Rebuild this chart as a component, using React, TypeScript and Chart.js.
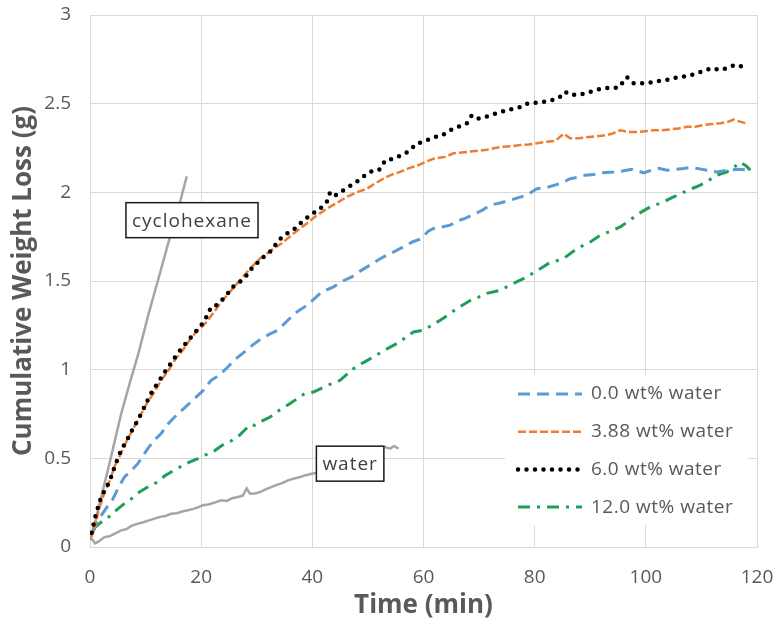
import { useEffect, useRef } from "react";
import { Chart, registerables } from "chart.js";

Chart.register(...registerables);

const FONT = "'Open Sans', 'DejaVu Sans', sans-serif";
const TEXT = "#595959";
const GRID = "#d9d9d9";

// Axis ticks and their labels
const xTickValues = [0, 20, 40, 60, 80, 100, 120];
const xTickLabels = ["0", "20", "40", "60", "80", "100", "120"];
const yTickValues = [0, 0.5, 1, 1.5, 2, 2.5, 3];
const yTickLabels = ["0", "0.5", "1", "1.5", "2", "2.5", "3"];

// Legend labels
const seriesLabels = ["0.0 wt% water", "3.88 wt% water", "6.0 wt% water", "12.0 wt% water"];

// 0.0 wt% water: time (min) and cumulative weight loss (g)
const time0 = [0.5, 1.4, 2.5, 4.1, 5.2, 6.2, 7.4, 8.6, 10.4, 11.5, 12.8, 14.2, 15.8, 17.2, 18.8, 20.3, 21.8, 23.3, 24.8, 26.2, 27.8, 29.3, 30.8, 32.3, 33.8, 35, 36.2, 37.4, 38.6, 40, 41.4, 42.6, 43.8, 45.5, 47.1, 48.8, 50.4, 51.9, 53.4, 55, 56.4, 58, 59.7, 60.8, 61.8, 63.3, 64.8, 66.2, 67.5, 69.3, 70.6, 72, 73.8, 75.6, 77.1, 78.6, 80.4, 82.5, 84.6, 86.4, 87.8, 89.1, 90.6, 92.1, 94.2, 95.8, 97.5, 98.6, 99.6, 101, 102.3, 103.8, 105.3, 106.8, 108, 109.2, 111, 112.8, 114.6, 116.5, 118.8];
const loss0 = [0.08, 0.15, 0.2, 0.27, 0.34, 0.395, 0.43, 0.47, 0.555, 0.6, 0.64, 0.7, 0.752, 0.79, 0.837, 0.88, 0.94, 0.97, 1.015, 1.06, 1.1, 1.14, 1.175, 1.2, 1.222, 1.26, 1.297, 1.33, 1.354, 1.39, 1.43, 1.45, 1.467, 1.5, 1.523, 1.56, 1.59, 1.62, 1.646, 1.67, 1.693, 1.72, 1.74, 1.78, 1.796, 1.805, 1.815, 1.84, 1.853, 1.88, 1.9, 1.928, 1.94, 1.956, 1.97, 1.984, 2.02, 2.03, 2.05, 2.077, 2.085, 2.097, 2.1, 2.11, 2.115, 2.12, 2.13, 2.12, 2.11, 2.125, 2.135, 2.125, 2.13, 2.135, 2.14, 2.135, 2.125, 2.115, 2.125, 2.13, 2.125];

// 3.88 wt% water
const time388 = [0, 0.8, 1.5, 2.5, 3.5, 4.5, 5.6, 6.8, 8, 9.2, 10.4, 11.5, 12.8, 14, 15.4, 16.7, 18, 19.3, 20.4, 21, 22.2, 23.4, 25.2, 27, 28.8, 30.6, 32.7, 34.8, 36.9, 39, 40.8, 42.6, 44.4, 46.2, 48, 49.8, 51.3, 52.8, 54.3, 55.8, 57.3, 58.8, 60.3, 61.8, 63.9, 65.4, 66.9, 68.4, 69.9, 71.4, 72.9, 74.4, 75.9, 77.4, 78.9, 80.4, 82.2, 83.7, 85.2, 86.4, 87.9, 89.4, 90.9, 92.4, 93.9, 95.4, 96.9, 98.4, 99.9, 101.4, 102.9, 104.4, 105.9, 107.4, 108.9, 110.4, 111.9, 113.4, 114.6, 115.8, 116.8, 117.9];
const loss388 = [0.04, 0.1, 0.2, 0.3, 0.37, 0.46, 0.53, 0.61, 0.68, 0.75, 0.82, 0.87, 0.94, 0.99, 1.06, 1.11, 1.17, 1.22, 1.25, 1.27, 1.32, 1.373, 1.44, 1.505, 1.57, 1.627, 1.675, 1.72, 1.775, 1.824, 1.87, 1.908, 1.94, 1.974, 2.0, 2.02, 2.05, 2.078, 2.1, 2.115, 2.135, 2.15, 2.17, 2.19, 2.2, 2.22, 2.225, 2.23, 2.235, 2.24, 2.25, 2.257, 2.26, 2.267, 2.27, 2.277, 2.285, 2.29, 2.33, 2.305, 2.305, 2.31, 2.315, 2.32, 2.33, 2.35, 2.34, 2.34, 2.345, 2.35, 2.35, 2.355, 2.36, 2.37, 2.37, 2.38, 2.385, 2.39, 2.395, 2.41, 2.4, 2.39];

// 6.0 wt% water
const time6 = [0.3, 1.1, 2, 2.8, 3.5, 4.5, 5.6, 6.6, 7.6, 8.6, 9.5, 10.4, 11.3, 12.3, 13.3, 14.3, 15.5, 16.7, 17.8, 18.9, 20, 21, 21.8, 22.6, 24.3, 25.7, 26.8, 27.9, 28.8, 29.7, 30.9, 31.8, 32.7, 33.9, 35.4, 36.9, 38.1, 39.6, 41.4, 42.6, 43.2, 44, 45, 46.5, 48, 49.5, 51, 52.2, 53.1, 54.6, 56.1, 57.3, 58.8, 60, 61.8, 63.3, 64.8, 66.3, 67.8, 68.7, 69.9, 71.1, 72.6, 74.1, 75.9, 77.4, 78.6, 80.1, 81.6, 83.1, 84.3, 85.5, 86.4, 87.9, 89.4, 90.9, 92.7, 93.9, 95.1, 96.6, 97.8, 99.3, 101.1, 102.6, 104.1, 105.9, 107.4, 108.9, 110.4, 111.9, 113.4, 114.6, 116.1, 117.3];
const loss6 = [0.08, 0.19, 0.28, 0.33, 0.367, 0.46, 0.546, 0.6, 0.66, 0.715, 0.77, 0.83, 0.884, 0.93, 0.98, 1.025, 1.08, 1.128, 1.17, 1.21, 1.25, 1.3, 1.354, 1.36, 1.41, 1.467, 1.49, 1.52, 1.56, 1.59, 1.627, 1.65, 1.673, 1.73, 1.767, 1.796, 1.833, 1.871, 1.908, 1.946, 2.0, 1.98, 2.0, 2.03, 2.06, 2.096, 2.125, 2.13, 2.18, 2.19, 2.21, 2.23, 2.275, 2.285, 2.31, 2.32, 2.35, 2.37, 2.39, 2.435, 2.416, 2.425, 2.44, 2.455, 2.47, 2.48, 2.5, 2.505, 2.51, 2.52, 2.53, 2.567, 2.55, 2.55, 2.56, 2.577, 2.587, 2.59, 2.59, 2.65, 2.615, 2.615, 2.62, 2.63, 2.635, 2.65, 2.655, 2.667, 2.685, 2.7, 2.69, 2.7, 2.72, 2.71];

// 12.0 wt% water
const time12 = [0.5, 2, 3.4, 4.7, 6, 7.1, 8.9, 10.5, 12.2, 13.4, 14.6, 16.7, 18, 19.4, 20.8, 22.1, 24.2, 25.5, 26.9, 28.8, 29.6, 30.9, 32.4, 34, 36, 38.6, 40.2, 42.6, 45, 47.4, 49.2, 51, 53, 55.2, 56.7, 58.2, 60, 61.5, 63, 64.5, 66, 68.4, 70, 71.4, 73.8, 76.2, 78.6, 80.5, 82.5, 85.2, 87.6, 90, 91.8, 93.6, 95.4, 97, 98.7, 100.8, 103.2, 104.7, 106.2, 107.4, 109, 110.4, 112.8, 114.6, 115.8, 117, 118, 118.8];
const loss12 = [0.1, 0.14, 0.17, 0.207, 0.24, 0.263, 0.31, 0.34, 0.367, 0.4, 0.423, 0.46, 0.48, 0.499, 0.52, 0.536, 0.583, 0.6, 0.63, 0.69, 0.686, 0.71, 0.733, 0.77, 0.809, 0.865, 0.874, 0.91, 0.94, 1.006, 1.04, 1.072, 1.11, 1.147, 1.18, 1.213, 1.222, 1.25, 1.279, 1.31, 1.345, 1.39, 1.41, 1.43, 1.448, 1.486, 1.523, 1.56, 1.599, 1.627, 1.683, 1.72, 1.758, 1.78, 1.805, 1.84, 1.88, 1.918, 1.946, 1.97, 1.99, 2.01, 2.03, 2.05, 2.097, 2.115, 2.14, 2.17, 2.15, 2.125];

// Pure water
const timeWater = [0, 0.5, 0.9, 1.5, 2.6, 3.5, 4.5, 5.6, 6.5, 7.5, 8.6, 9.6, 10.6, 11.6, 12.6, 13.6, 14.6, 15.6, 16.6, 17.6, 18.6, 19.5, 20.3, 21.3, 22.4, 23.6, 24.6, 25.6, 26.6, 27.5, 28.2, 28.8, 29.6, 30.6, 31.6, 32.6, 33.6, 34.6, 35.6, 36.6, 37.8, 38.8, 40.1, 41, 42, 43, 44, 45, 46, 47, 48, 49, 50, 51, 52, 53.1, 54, 54.7, 55.5];
const lossWater = [0.05, 0.04, 0.02, 0.03, 0.056, 0.06, 0.075, 0.094, 0.1, 0.12, 0.132, 0.14, 0.15, 0.16, 0.17, 0.175, 0.188, 0.19, 0.2, 0.207, 0.215, 0.225, 0.235, 0.24, 0.25, 0.263, 0.26, 0.275, 0.282, 0.29, 0.33, 0.3, 0.301, 0.31, 0.325, 0.338, 0.35, 0.36, 0.376, 0.385, 0.395, 0.405, 0.414, 0.42, 0.43, 0.44, 0.45, 0.46, 0.47, 0.48, 0.49, 0.5, 0.515, 0.53, 0.545, 0.564, 0.555, 0.57, 0.555];

// Pure cyclohexane
const timeCyclo = [0, 0.6, 2, 3.5, 5.6, 7.2, 8.7, 10.5, 12.2, 14.4, 16, 17.4];
const lossCyclo = [0.05, 0.1, 0.28, 0.47, 0.75, 0.93, 1.09, 1.31, 1.5, 1.75, 1.92, 2.09];

// Boxed callouts, anchored at data coordinates (centre of the box)
const callouts = [
  { text: "cyclohexane", x: 18.35, y: 1.843 },
  { text: "water", x: 46.8, y: 0.47 },
];

const pts = (xs: number[], ys: number[]) => xs.map((x, i) => ({ x, y: ys[i] }));

const insetLegend = {
  id: "insetLegend",
  afterDraw(chart: any) {
    const { ctx, chartArea } = chart;
    const w = 243;
    const h = 150;
    const left = chartArea.right - 9 - w;
    const top = chartArea.bottom - 22 - h;
    ctx.save();
    ctx.fillStyle = "#ffffff";
    ctx.fillRect(left, top, w, h);
    const entries = chart.data.datasets.filter((d: any) => seriesLabels.includes(d.label));
    entries.sort((a: any, b: any) => seriesLabels.indexOf(a.label) - seriesLabels.indexOf(b.label));
    entries.forEach((ds: any, i: number) => {
      const y = top + 19 + i * 37.7;
      ctx.strokeStyle = ds.borderColor;
      ctx.lineWidth = ds.borderWidth;
      ctx.lineCap = ds.borderCapStyle || "butt";
      ctx.setLineDash(ds.borderDash || []);
      ctx.beginPath();
      ctx.moveTo(left + 13, y);
      ctx.lineTo(left + 77, y);
      ctx.stroke();
      ctx.setLineDash([]);
      ctx.fillStyle = TEXT;
      ctx.font = `19px ${FONT}`;
      ctx.letterSpacing = "0.5px";
      ctx.textAlign = "left";
      ctx.textBaseline = "middle";
      ctx.fillText(ds.label, left + 86, y);
    });
    ctx.restore();
  },
};

const calloutBoxes = {
  id: "calloutBoxes",
  afterDatasetsDraw(chart: any) {
    const { ctx, scales } = chart;
    ctx.save();
    ctx.font = `19px ${FONT}`;
    ctx.letterSpacing = "1px";
    callouts.forEach((c) => {
      const cx = scales.x.getPixelForValue(c.x);
      const cy = scales.y.getPixelForValue(c.y);
      const tw = ctx.measureText(c.text).width;
      const bw = tw + 12;
      const bh = 35;
      ctx.fillStyle = "#ffffff";
      ctx.fillRect(cx - bw / 2, cy - bh / 2, bw, bh);
      ctx.strokeStyle = "#1a1a1a";
      ctx.lineWidth = 1.5;
      ctx.strokeRect(cx - bw / 2, cy - bh / 2, bw, bh);
      ctx.fillStyle = "#404040";
      ctx.textAlign = "left";
      ctx.textBaseline = "middle";
      ctx.fillText(c.text, cx - tw / 2, cy + 1);
    });
    ctx.restore();
  },
};

export default function App() {
  const canvasRef = useRef<HTMLCanvasElement>(null);

  useEffect(() => {
    if (!canvasRef.current) return;
    const line = { pointRadius: 0, tension: 0, fill: false };
    const chart = new Chart(canvasRef.current, {
      type: "line",
      data: {
        datasets: [
          { ...line, label: seriesLabels[2], data: pts(time6, loss6), borderColor: "#000000", borderWidth: 4.5, borderDash: [0, 8.5], borderCapStyle: "round" },
          { ...line, label: seriesLabels[1], data: pts(time388, loss388), borderColor: "#ed7d31", borderWidth: 2.5, borderDash: [8, 3] },
          { ...line, label: seriesLabels[0], data: pts(time0, loss0), borderColor: "#5b9bd5", borderWidth: 3, borderDash: [12, 7] },
          { ...line, label: seriesLabels[3], data: pts(time12, loss12), borderColor: "#1f9e57", borderWidth: 3, borderDash: [12, 7, 3, 7] },
          { ...line, label: "water", data: pts(timeWater, lossWater), borderColor: "#a5a5a5", borderWidth: 2.5 },
          { ...line, label: "cyclohexane", data: pts(timeCyclo, lossCyclo), borderColor: "#a5a5a5", borderWidth: 2.5 },
        ],
      } as any,
      options: {
        animation: false,
        responsive: false,
        devicePixelRatio: 1,
        layout: { padding: { top: 15, right: 21, left: 0, bottom: 0 } },
        plugins: { legend: { display: false }, tooltip: { enabled: false } },
        scales: {
          x: {
            type: "linear",
            min: 0,
            max: 120,
            afterBuildTicks: (s: any) => { s.ticks = xTickValues.map((v) => ({ value: v })); },
            afterFit: (s: any) => {
              s.height = 77;
              s.paddingLeft = 0;
              s.paddingRight = 0;
            },
            grid: { color: GRID, lineWidth: 1, drawTicks: false },
            border: { color: GRID, width: 1 },
            ticks: {
              color: TEXT,
              font: { family: FONT, size: 19 },
              padding: 19,
              maxRotation: 0,
              callback: (v: any) => xTickLabels[xTickValues.indexOf(Number(v))],
            },
            title: { display: true, text: "Time (min)", color: TEXT, font: { family: FONT, size: 26, weight: "bold" }, padding: { top: 0, bottom: 3 } },
          },
          y: {
            type: "linear",
            min: 0,
            max: 3,
            afterBuildTicks: (s: any) => { s.ticks = yTickValues.map((v) => ({ value: v })); },
            afterFit: (s: any) => {
              s.width = 90;
              s.paddingTop = 0;
              s.paddingBottom = 0;
            },
            grid: { color: GRID, lineWidth: 1, drawTicks: false },
            border: { color: GRID, width: 1 },
            ticks: {
              color: TEXT,
              font: { family: FONT, size: 19 },
              padding: 19,
              callback: (v: any) => yTickLabels[yTickValues.indexOf(Number(v))],
            },
            title: { display: true, text: "Cumulative Weight Loss (g)", color: TEXT, font: { family: FONT, size: 26, weight: "bold" }, padding: { top: 8, bottom: 0 } },
          },
        },
      } as any,
      plugins: [calloutBoxes, insetLegend],
    });
    return () => chart.destroy();
  }, []);

  return (
    <div style={{ position: "fixed", left: 0, top: 0, width: 778, height: 624, background: "#ffffff" }}>
      <canvas ref={canvasRef} width={778} height={624} />
    </div>
  );
}
